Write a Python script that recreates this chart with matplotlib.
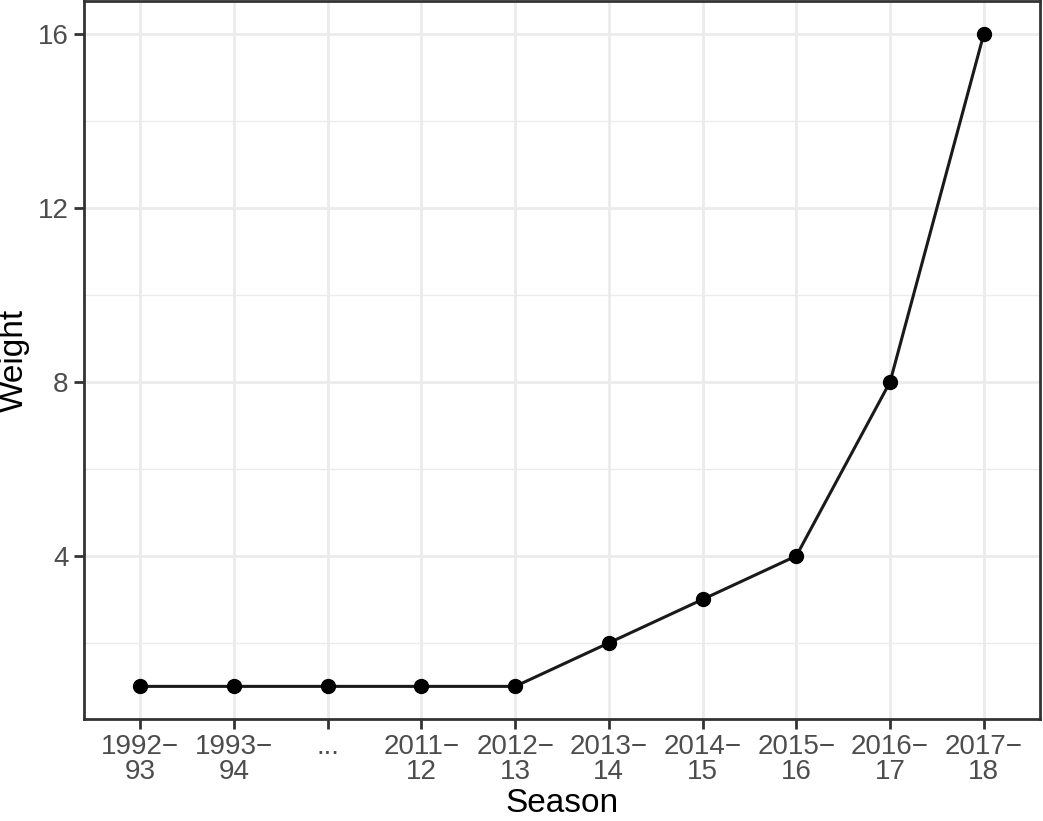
import numpy as np
import matplotlib
matplotlib.use("Agg")
from matplotlib import pyplot as plt
from matplotlib.ticker import MultipleLocator

# Data
seasons = ["1992\u2212\n93", "1993\u2212\n94", "...", "2011\u2212\n12", "2012\u2212\n13",
           "2013\u2212\n14", "2014\u2212\n15", "2015\u2212\n16", "2016\u2212\n17", "2017\u2212\n18"]
weights = [1, 1, 1, 1, 1, 2, 3, 4, 8, 16]
y_ticks = [4, 8, 12, 16]

plt.rcParams['font.family'] = ['Liberation Sans', 'DejaVu Sans']

fig = plt.figure(figsize=(10.43, 8.21), dpi=100)
ax = fig.add_axes([84 / 1043, 102 / 821, 956 / 1043, 717.5 / 821])

x = np.arange(len(seasons))
ax.plot(x, weights, color='#1a1a1a', linewidth=2.2, zorder=3)
ax.scatter(x, weights, s=100, color='black', zorder=4)

ax.set_xlim(-0.6, len(seasons) - 0.4)
ax.set_ylim(0.25, 16.75)
ax.set_xticks(x)
ax.set_xticklabels(seasons, linespacing=0.95)
ax.set_yticks(y_ticks)
ax.yaxis.set_minor_locator(MultipleLocator(2))

ax.grid(True, which='major', color='#ebebeb', linewidth=2.0)
ax.grid(True, which='minor', axis='y', color='#ebebeb', linewidth=1.0)
ax.set_axisbelow(True)

for sp in ax.spines.values():
    sp.set_color('#333333')
    sp.set_linewidth(2.0)

ax.tick_params(axis='both', which='major', length=7, width=2, color='#333333',
               labelcolor='#4d4d4d', labelsize=20, pad=4)
ax.tick_params(axis='y', which='minor', length=0)

ax.set_xlabel('Season', fontsize=24, labelpad=2)
ax.set_ylabel('Weight', fontsize=24, labelpad=6)

fig.savefig('out.png', dpi=100)
